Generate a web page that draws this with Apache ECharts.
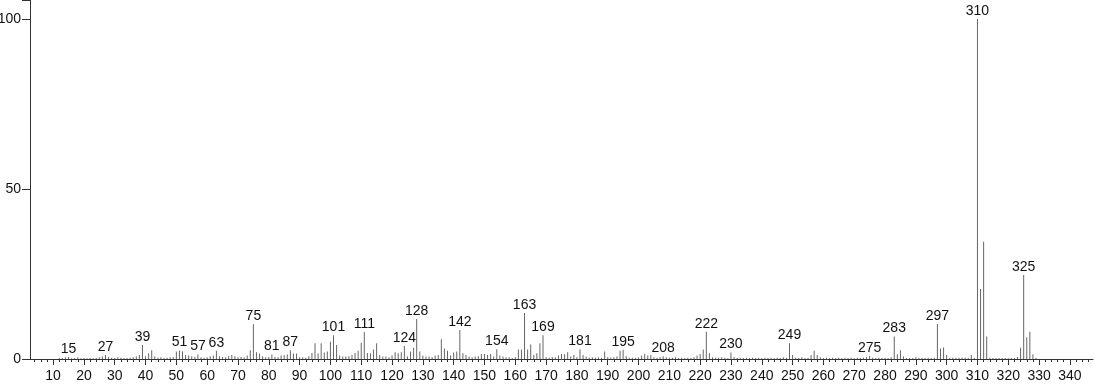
<!DOCTYPE html>
<html>
<head>
<meta charset="utf-8">
<script src="https://cdn.jsdelivr.net/npm/echarts@6/dist/echarts.min.js"></script>
<style>
html,body{margin:0;padding:0;background:#fff;}
#chart{width:1094px;height:384px;}
</style>
</head>
<body>
<div id="chart"></div>
<script>
// m/z values (integers 12..329) and relative intensities
const masses = [];
for (let m = 12; m <= 329; m++) masses.push(m);
const intensities = [
/*12*/0.3,0.3,0.5,0.6,0.2,0.3,0.5,0.2,
/*20*/0.3,0.2,0.3,0.2,0.3,0.5,0.7,1.2,0.6,0.4,
/*30*/0.3,0.5,0.4,0.3,0.3,0.4,0.5,0.8,1.2,4.1,
/*40*/0.8,1.7,2.6,0.7,0.4,0.5,0.3,0.4,0.5,0.6,
/*50*/2.2,2.5,2.2,1.2,1.0,0.8,0.6,1.3,0.5,0.4,
/*60*/0.5,0.8,1.0,2.4,0.8,0.6,0.5,0.9,1.2,0.8,
/*70*/0.5,0.6,0.5,1.0,2.6,10.2,2.0,1.6,0.8,0.5,
/*80*/0.6,1.3,0.6,0.5,1.0,1.1,1.3,2.6,1.6,1.6,
/*90*/0.5,0.5,0.4,0.8,1.8,4.6,1.6,4.6,1.9,2.2,
/*100*/5.1,7.0,4.1,1.0,0.7,0.7,0.8,1.2,1.8,2.4,
/*110*/4.8,8.0,1.8,1.7,2.8,4.6,1.2,0.7,0.7,0.5,
/*120*/1.0,2.0,1.7,2.0,3.8,0.7,2.2,3.3,11.8,2.2,
/*130*/1.0,0.7,0.7,0.6,1.0,1.2,5.8,3.1,2.4,1.0,
/*140*/1.9,2.2,8.5,1.7,1.2,0.7,0.5,0.7,0.8,1.5,
/*150*/1.5,1.2,1.5,0.7,2.9,1.0,0.7,0.5,0.5,0.3,
/*160*/0.5,2.8,2.8,13.5,2.8,4.3,1.2,1.7,4.6,7.0,
/*170*/0.5,0.4,0.6,0.5,1.0,1.5,1.4,2.0,0.7,1.2,
/*180*/0.5,2.9,1.2,0.7,0.4,0.5,0.4,0.5,0.4,2.2,
/*190*/0.5,0.4,0.5,0.7,2.4,2.7,0.8,0.4,0.4,0.4,
/*200*/0.5,1.0,1.5,1.0,1.2,0.5,0.4,0.5,0.8,0.5,
/*210*/0.4,0.4,0.5,0.3,0.4,0.3,0.4,0.3,0.5,1.0,
/*220*/1.5,2.8,8.0,1.7,0.5,0.4,0.4,0.5,0.4,0.3,
/*230*/1.9,0.6,0.3,0.4,0.3,0.4,0.3,0.4,0.3,0.4,
/*240*/0.3,0.4,0.3,0.4,0.3,0.4,0.3,0.5,0.4,4.6,
/*250*/1.2,0.4,0.3,0.5,0.3,0.4,1.2,2.4,1.2,0.5,
/*260*/0.3,0.4,0.3,0.4,0.3,0.4,0.3,0.4,0.3,0.4,
/*270*/0.3,0.4,0.3,0.4,0.5,0.9,0.4,0.3,0.4,0.3,
/*280*/0.4,0.3,0.5,6.6,1.4,2.6,0.7,0.3,0.3,0.3,
/*290*/0.5,0.3,0.4,0.3,0.4,0.3,0.4,10.3,3.1,3.4,
/*300*/1.2,0.4,0.4,0.4,0.4,0.4,0.4,0.4,1.2,0.3,
/*310*/100,20.6,34.5,6.6,0.4,0.3,0.3,0.3,0.3,0.3,
/*320*/0.3,0.3,0.3,0.6,3.3,24.7,6.4,8.0,1.4,0.4
];
const labeledPeaks = [15,27,39,51,57,63,75,81,87,101,111,124,128,142,154,163,169,181,195,208,222,230,249,275,283,297,310,325];
const xMajorTicks = [];
for (let v = 10; v <= 340; v += 10) xMajorTicks.push(v);
const xMinorTicks = [];
for (let v = 4; v <= 346; v += 2) if (v % 10 !== 0) xMinorTicks.push(v);

const seriesData = masses.map((m, i) => {
  const item = { value: [m, intensities[i]] };
  if (labeledPeaks.indexOf(m) >= 0) item.label = { show: true };
  return item;
});

const font = "'Liberation Sans', Arial, Helvetica, sans-serif";
const chart = echarts.init(document.getElementById('chart'));
chart.setOption({
  animation: false,
  grid: { left: 30, right: 1, top: 0, bottom: 25, containLabel: false, outerBoundsMode: 'none' },
  xAxis: [{
    type: 'value', min: 2.5, max: 347.5, position: 'bottom',
    axisLine: { show: true, lineStyle: { color: '#333', width: 1 } },
    axisTick: { show: true, length: 6, lineStyle: { color: '#333' }, customValues: xMajorTicks },
    axisLabel: { show: true, customValues: xMajorTicks, color: '#111', fontSize: 14, fontFamily: font, margin: 10 },
    splitLine: { show: false }
  }, {
    type: 'value', min: 2.5, max: 347.5, position: 'bottom',
    axisLine: { show: false },
    axisTick: { show: true, length: 3, lineStyle: { color: '#333' }, customValues: xMinorTicks },
    axisLabel: { show: false },
    splitLine: { show: false }
  }],
  yAxis: {
    type: 'value', min: 0, max: 105.6, interval: 50,
    axisLine: { show: true, lineStyle: { color: '#333', width: 1 } },
    axisTick: { show: true, length: 8, lineStyle: { color: '#333' } },
    axisLabel: { color: '#111', fontSize: 14, fontFamily: font, margin: 9,
      formatter: v => (v % 50 === 0 ? String(v) : '') },
    splitLine: { show: false }
  },
  series: [{
    type: 'bar',
    xAxisIndex: 0,
    barWidth: 1,
    itemStyle: { color: '#666' },
    label: { show: false, position: 'top', distance: 1, color: '#111', fontSize: 14, fontFamily: font,
      formatter: p => String(p.value[0]) },
    data: seriesData
  }]
});
</script>
</body>
</html>
